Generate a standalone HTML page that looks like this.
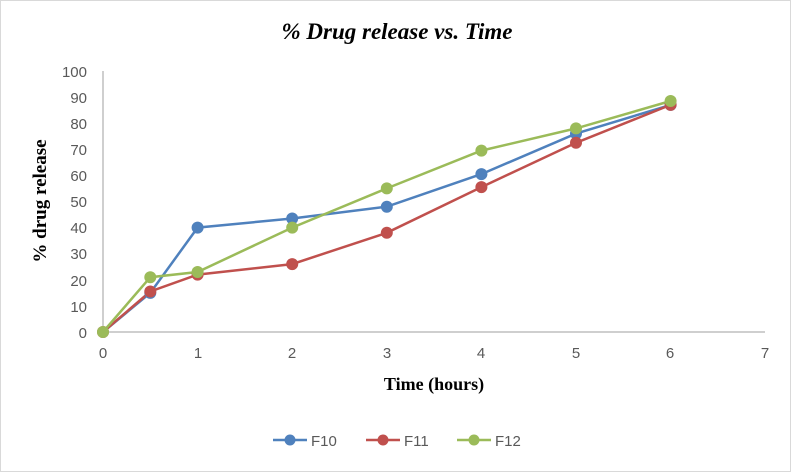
<!DOCTYPE html>
<html><head><style>body{margin:0;background:#fff}</style></head><body>
<svg width="791" height="472" xmlns="http://www.w3.org/2000/svg" style="display:block">
<rect x="0.5" y="0.5" width="790" height="471" fill="#fff" stroke="#d9d9d9"/>
<text x="397" y="39" text-anchor="middle" font-family="Liberation Serif" font-size="23" font-weight="bold" font-style="italic">% Drug release vs. Time</text>
<g stroke="#bfbfbf" stroke-width="1.5" fill="none">
<line x1="103" y1="71" x2="103" y2="332"/>
<line x1="103" y1="332" x2="765" y2="332"/>
</g>
<g font-family="Liberation Sans" font-size="15" fill="#595959" text-anchor="end">
<text x="87" y="338">0</text><text x="87" y="312">10</text><text x="87" y="286">20</text><text x="87" y="259">30</text><text x="87" y="233">40</text><text x="87" y="207">50</text><text x="87" y="181">60</text><text x="87" y="155">70</text><text x="87" y="129">80</text><text x="87" y="103">90</text><text x="87" y="77">100</text>
</g>
<g font-family="Liberation Sans" font-size="15" fill="#595959" text-anchor="middle">
<text x="103" y="358">0</text><text x="198" y="358">1</text><text x="292" y="358">2</text><text x="387" y="358">3</text><text x="481" y="358">4</text><text x="576" y="358">5</text><text x="670" y="358">6</text><text x="765" y="358">7</text>
</g>
<text x="434" y="390" text-anchor="middle" font-family="Liberation Serif" font-size="18" font-weight="bold">Time (hours)</text>
<text transform="translate(46,201) rotate(-90)" text-anchor="middle" font-family="Liberation Serif" font-size="19" font-weight="bold">% drug release</text>
<g fill="none" stroke-width="2.5">
<polyline stroke="#4f81bd" points="103,332 150.3,292.9 197.6,227.6 292.2,218.5 386.8,206.7 481.4,174.1 576,133.6 670.6,104.9"/>
<polyline stroke="#c0504d" points="103,332 150.3,291.5 197.6,274.6 292.2,264.1 386.8,232.8 481.4,187.1 576,142.8 670.6,104.9"/>
<polyline stroke="#9bbb59" points="103,332 150.3,277.2 197.6,272 292.2,227.6 386.8,188.4 481.4,150.6 576,128.4 670.6,101"/>
</g>
<g fill="#4f81bd"><circle cx="150.3" cy="292.9" r="6"/><circle cx="197.6" cy="227.6" r="6"/><circle cx="292.2" cy="218.5" r="6"/><circle cx="386.8" cy="206.7" r="6"/><circle cx="481.4" cy="174.1" r="6"/><circle cx="576" cy="133.6" r="6"/><circle cx="670.6" cy="104.9" r="6"/></g>
<g fill="#c0504d"><circle cx="103" cy="332" r="6"/><circle cx="150.3" cy="291.5" r="6"/><circle cx="197.6" cy="274.6" r="6"/><circle cx="292.2" cy="264.1" r="6"/><circle cx="386.8" cy="232.8" r="6"/><circle cx="481.4" cy="187.1" r="6"/><circle cx="576" cy="142.8" r="6"/><circle cx="670.6" cy="104.9" r="6"/></g>
<g fill="#9bbb59"><circle cx="103" cy="332" r="6"/><circle cx="150.3" cy="277.2" r="6"/><circle cx="197.6" cy="272" r="6"/><circle cx="292.2" cy="227.6" r="6"/><circle cx="386.8" cy="188.4" r="6"/><circle cx="481.4" cy="150.6" r="6"/><circle cx="576" cy="128.4" r="6"/><circle cx="670.6" cy="101" r="6"/></g>
<g stroke-width="2.5">
<line x1="273" y1="440" x2="307" y2="440" stroke="#4f81bd"/><circle cx="290" cy="440" r="5.5" fill="#4f81bd"/>
<line x1="366" y1="440" x2="400" y2="440" stroke="#c0504d"/><circle cx="383" cy="440" r="5.5" fill="#c0504d"/>
<line x1="457" y1="440" x2="491" y2="440" stroke="#9bbb59"/><circle cx="474" cy="440" r="5.5" fill="#9bbb59"/>
</g>
<g font-family="Liberation Sans" font-size="15" fill="#595959">
<text x="311" y="446">F10</text><text x="404" y="446">F11</text><text x="495" y="446">F12</text>
</g>
</svg>
</body></html>
